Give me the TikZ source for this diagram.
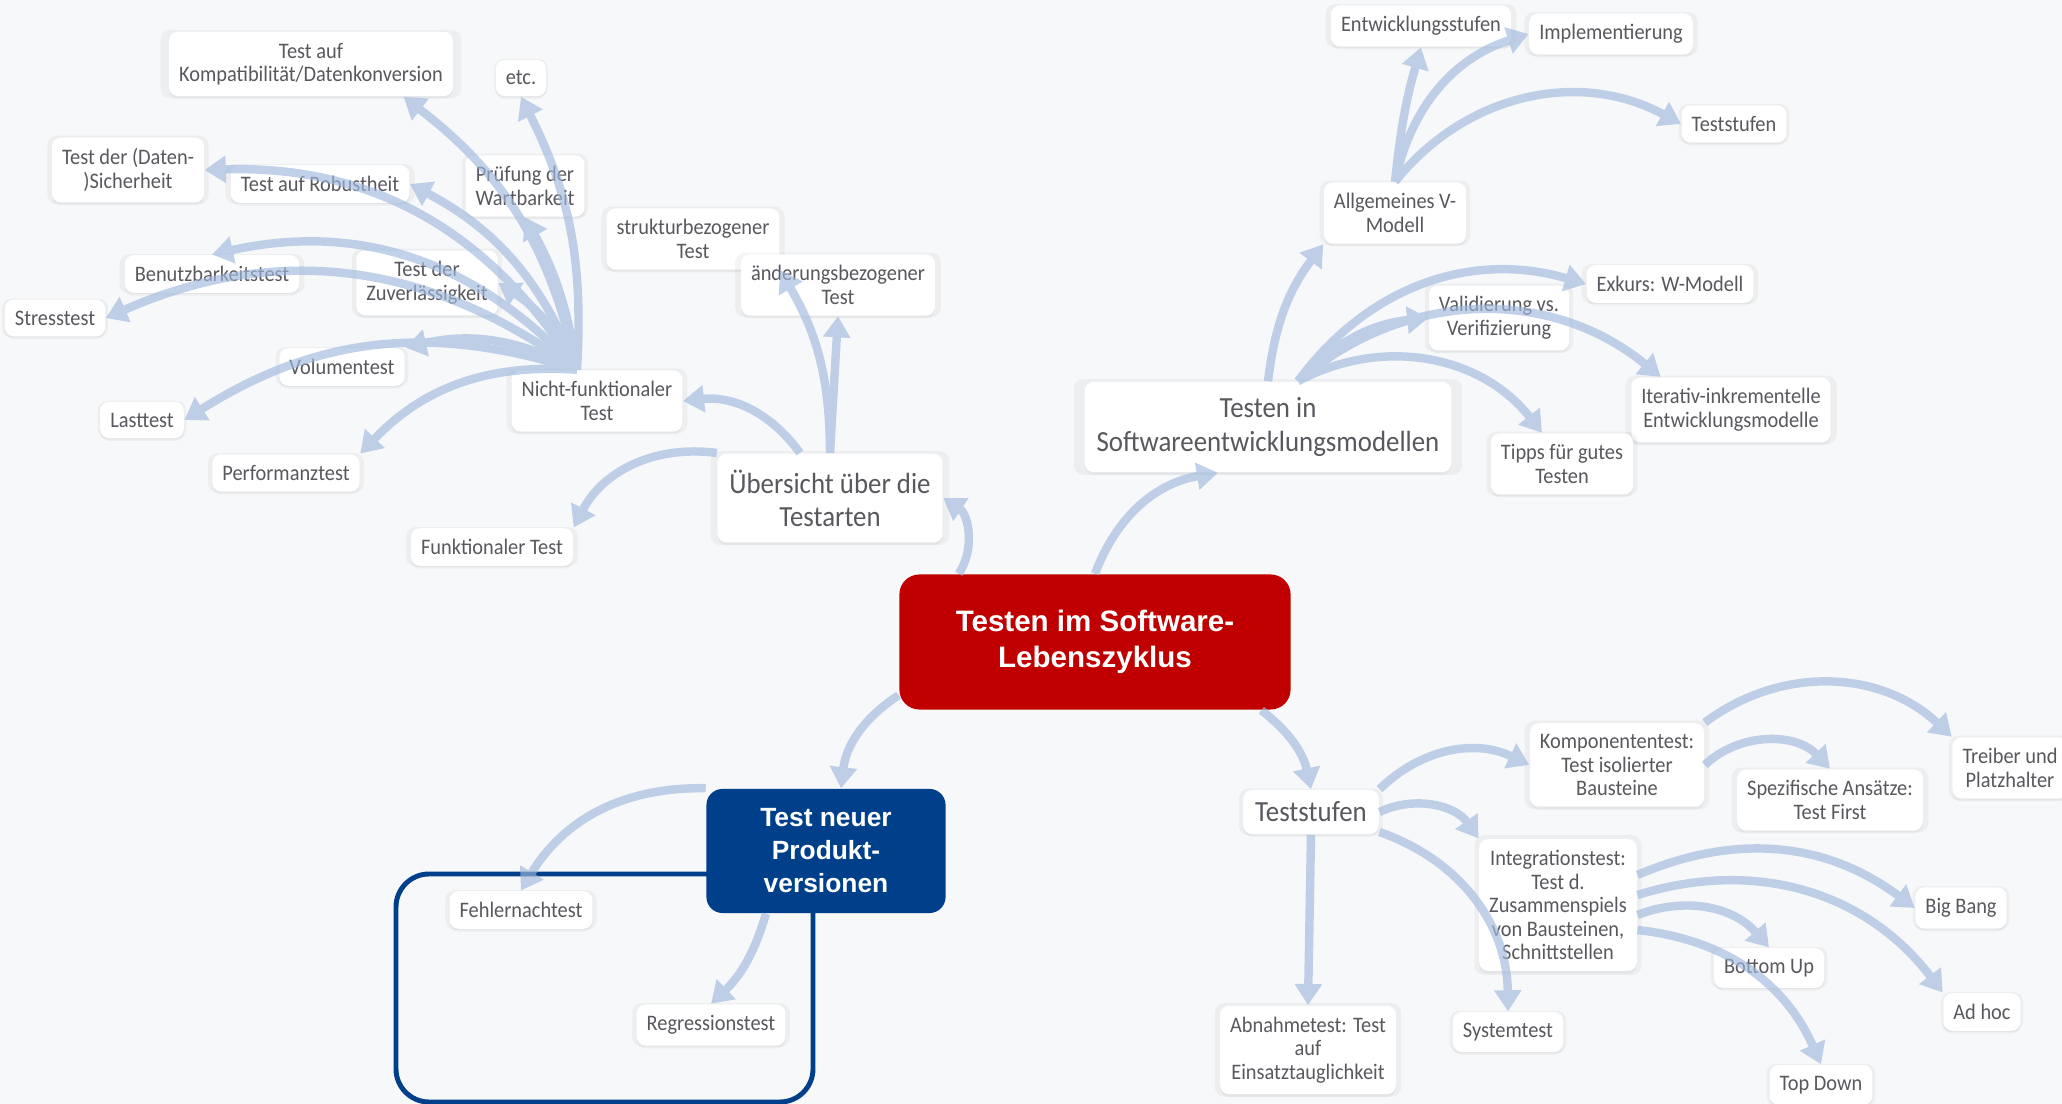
\documentclass[tikz,border=0pt]{standalone}
\usepackage{fontspec}
\setmainfont{Carlito}[FakeStretch=0.92]
\newfontfamily\boxfont{Liberation Sans}
\usepackage{tikz}
\usetikzlibrary{
	arrows.meta,
	positioning,
	shadows
}
\usepackage{xcolor}

\definecolor{bgcol}{RGB}{247,248,250}
\definecolor{leafgrey}{RGB}{88,88,94}
\definecolor{swoosh}{RGB}{160,185,222}
\definecolor{rootred}{RGB}{192,0,0}
\definecolor{topicblue}{RGB}{0,63,138}

\begin{document}
\begin{tikzpicture}[
		x=0.01cm, y=0.01cm,
		leaf/.style={
			fill=white,
			rounded corners=0.09cm,
			text=leafgrey,
			align=center,
			font=\fontsize{6.3}{6.7}\selectfont,
			inner xsep=0.1cm,
			inner ysep=0.11cm,
			general shadow={fill=black, opacity=0.04, shadow scale=1.06},
			drop shadow={opacity=0.08, shadow xshift=0pt, shadow yshift=-0.8pt}
		},
		bigleaf/.style={
			leaf,
			font=\fontsize{8.3}{9.4}\selectfont,
			inner xsep=0.12cm,
			inner ysep=0.16cm
		},
		rootbox/.style={
			fill=rootred,
			rounded corners=0.2cm,
			text=white,
			align=center,
			font=\boxfont\bfseries\fontsize{8.4}{10.1}\selectfont,
			minimum width=3.91cm,
			minimum height=1.35cm
		},
		topicbox/.style={
			fill=topicblue,
			rounded corners=0.16cm,
			text=white,
			align=center,
			font=\boxfont\bfseries\fontsize{7.5}{9.4}\selectfont,
			minimum width=2.39cm,
			minimum height=1.24cm
		},
		branch/.style={
			draw=swoosh,
			line width=2.4pt,
			-{Triangle[width=7.5pt,length=6pt]}
		}
		]
		
		\useasboundingbox (0,0) rectangle (2062,-1104);
		\fill[bgcol] (0,0) rectangle (2062,-1104);
		
		% Frame round the new versions
		\draw[topicblue, line width=1.4pt, rounded corners=0.33cm] (396,-874) rectangle (813,-1102);
		
		% Root and main topics
		\node[rootbox] (root) at (1095,-642) {Testen im Software-\\Lebenszyklus};
		\node[topicbox] (neu) at (826,-851) {Test neuer\\Produkt-\\versionen};
		\node[bigleaf, minimum width=2.18cm] (uebersicht) at (830,-498) {Übersicht über die\\Testarten};
		\node[bigleaf] (swmodelle) at (1268,-427) {Testen in\\Softwareentwicklungsmodellen};
		\node[bigleaf, inner ysep=0.12cm] (teststufen) at (1311,-812) {Teststufen};
		
		% Testarten
		\node[leaf] (kompat) at (311,-64) {Test auf\\Kompatibilität/Datenkonversion};
		\node[leaf] (etc) at (521,-78) {etc.};
		\node[leaf] (sicher) at (128,-170) {Test der (Daten-\\)Sicherheit};
		\node[leaf] (robust) at (320,-184) {Test auf Robustheit};
		\node[leaf] (wartbar) at (525,-186) {Prüfung der\\Wartbarkeit};
		\node[leaf] (struktur) at (693,-239) {strukturbezogener\\Test};
		\node[leaf] (aenderung) at (838,-285) {änderungsbezogener\\Test};
		\node[leaf] (benutz) at (212,-274) {Benutzbarkeitstest};
		\node[leaf] (zuverl) at (427,-283) {Test der\\Zuverlässigkeit};
		\node[leaf] (stress) at (55,-318) {Stresstest};
		\node[leaf] (volumen) at (342,-367) {Volumentest};
		\node[leaf] (nichtfunk) at (597,-401) {Nicht-funktionaler\\Test};
		\node[leaf] (last) at (142,-420) {Lasttest};
		\node[leaf] (performanz) at (286,-473) {Performanztest};
		\node[leaf] (funk) at (492,-547) {Funktionaler Test};
		
		% Entwicklungsmodelle
		\node[leaf] (entw) at (1421,-26) {Entwicklungsstufen};
		\node[leaf] (impl) at (1611,-34) {Implementierung};
		\node[leaf] (tstufen) at (1734,-124) {Teststufen};
		\node[leaf] (vmodell) at (1395,-213) {Allgemeines V-\\Modell};
		\node[leaf] (wmodell) at (1670,-284) {Exkurs: W-Modell};
		\node[leaf] (valid) at (1499,-318) {Validierung vs.\\Verifizierung};
		\node[leaf] (iterativ) at (1731,-410) {Iterativ-inkrementelle\\Entwicklungsmodelle};
		\node[leaf] (tipps) at (1562,-464) {Tipps für gutes\\Testen};
		
		% Teststufen
		\node[leaf] (kompon) at (1617,-765) {Komponententest:\\Test isolierter\\Bausteine};
		\node[leaf] (spezif) at (1830,-800) {Spezifische Ansätze:\\Test First};
		\node[leaf] (treiber) at (2010,-768) {Treiber und\\Platzhalter};
		\node[leaf] (integr) at (1558,-905) {Integrationstest:\\Test d.\\Zusammenspiels\\von Bausteinen,\\Schnittstellen};
		\node[leaf] (bigbang) at (1961,-908) {Big Bang};
		\node[leaf] (bottomup) at (1769,-968) {Bottom Up};
		\node[leaf] (adhoc) at (1982,-1012) {Ad hoc};
		\node[leaf] (abnahme) at (1308,-1050) {Abnahmetest: Test\\auf\\Einsatztauglichkeit};
		\node[leaf] (system) at (1508,-1032) {Systemtest};
		\node[leaf] (topdown) at (1821,-1085) {Top Down};
		
		% Produktversionen
		\node[leaf] (fehler) at (521,-910) {Fehlernachtest};
		\node[leaf] (regression) at (711,-1025) {Regressionstest};
		
		% branch ends
		\coordinate (nfstart) at ([xshift=-0.2cm]nichtfunk.north);
		\coordinate (kompatend) at ([xshift=-0.5cm]kompat.south east);
		\coordinate (swstart) at ([xshift=0.3cm]swmodelle.north);
		\coordinate (iterend) at ([xshift=0.3cm]iterativ.north west);
		\coordinate (tippsend) at ([xshift=-0.2cm]tipps.north);
		
		% Branches
		\begin{scope}[transparency group, opacity=0.65]
			\draw[branch] ([xshift=0.6cm]root.north west) to[bend right=45] (uebersicht.east);
			\draw[branch] (root.north) to[bend left=30] ([xshift=-0.5cm]swmodelle.south);
			\draw[branch] ([xshift=-0.3cm]root.south east) to[bend left=20] (teststufen.north);
			\draw[branch] ([yshift=0.15cm]root.south west) to[bend right=25] ([xshift=0.15cm]neu.north);
			
			\draw[branch] (neu.north west) to[bend right=30] (fehler.north);
			\draw[branch] ([xshift=-0.6cm]neu.south) to[bend left=15] (regression.north);
			
			\draw[branch] ([xshift=-0.3cm]uebersicht.north) to[bend right=30] (nichtfunk.east);
			\draw[branch] (uebersicht.north west) to[bend right=35] (funk.north east);
			\draw[branch] (uebersicht.north) to[bend right=15] (struktur.south east);
			\draw[branch] (uebersicht.north) -- (aenderung.south);
			
			\foreach \target/\b in {kompatend/20, etc.south/15,
				wartbar.south/10, sicher.east/30, robust.east/20, benutz.north/30,
				zuverl.east/15, stress.east/30, volumen.north east/20,
				last.east/25, performanz.north east/25}
			\draw[branch] (nfstart) to[bend right=\b] (\target);
			
			\draw[branch] (swmodelle.north) to[bend left=15] (vmodell.south west);
			\foreach \target/\b in {wmodell.west/35, valid.west/20,
				iterend/40, tippsend/40}
			\draw[branch] (swstart) to[bend left=\b] (\target);
			
			\draw[branch] (vmodell.north) to[bend left=5] (entw.south);
			\draw[branch] (vmodell.north) to[bend left=30] (impl.west);
			\draw[branch] (vmodell.north) to[bend left=40] (tstufen.west);
			
			\draw[branch] (teststufen.north east) to[bend left=35] (kompon.west);
			\draw[branch] (teststufen.east) to[bend left=40] (integr.north west);
			\draw[branch] ([yshift=-0.2cm]teststufen.east) to[bend left=35] (system.north);
			\draw[branch] (teststufen.south) -- (abnahme.north);
			
			\draw[branch] (kompon.east) to[bend left=45] (spezif.north);
			\draw[branch] (kompon.north east) to[bend left=40] (treiber.north west);
			
			\draw[branch] ([yshift=0.3cm]integr.east) to[bend left=30] (bigbang.west);
			\draw[branch] ([yshift=0.1cm]integr.east) to[bend left=35] (adhoc.north west);
			\draw[branch] ([yshift=-0.1cm]integr.east) to[bend left=35] (bottomup.north);
			\draw[branch] ([yshift=-0.25cm]integr.east) to[bend left=30] (topdown.north);
		\end{scope}
		
	\end{tikzpicture}
\end{document}
